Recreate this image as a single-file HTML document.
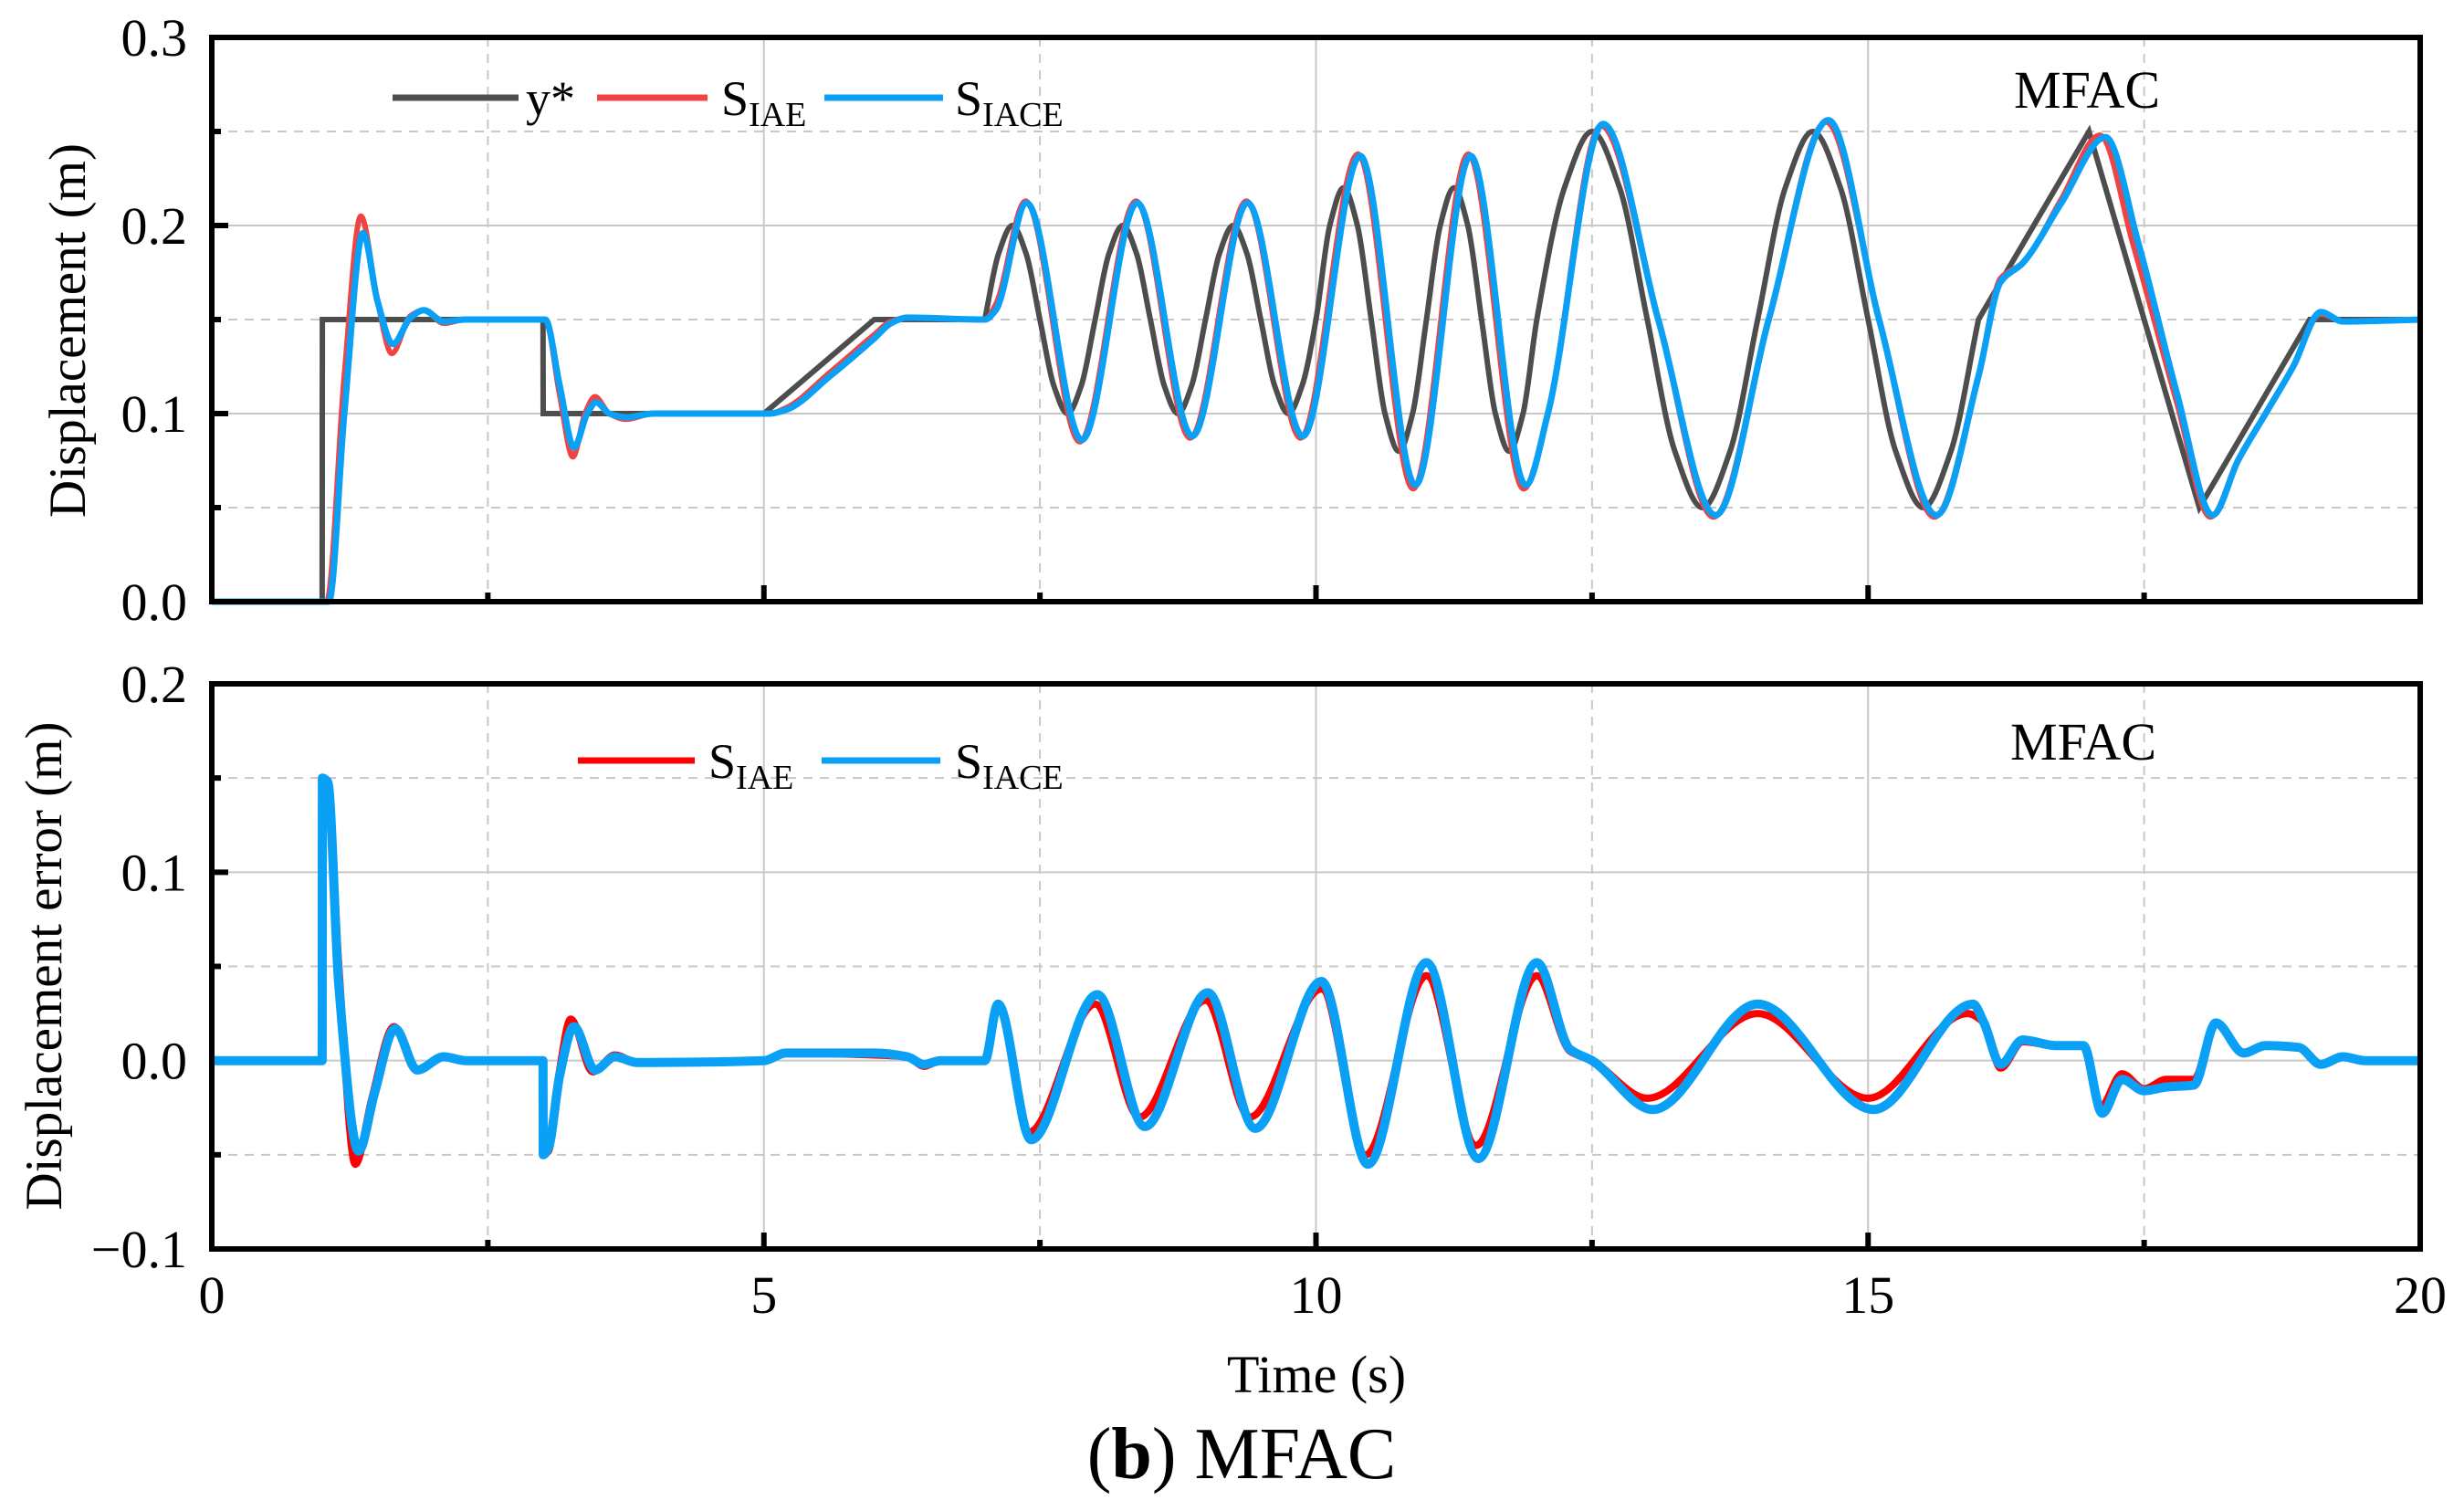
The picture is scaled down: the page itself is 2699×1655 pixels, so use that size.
<!DOCTYPE html>
<html><head><meta charset="utf-8">
<style>
html,body{margin:0;padding:0;background:#fff;}
svg{display:block;}
text{font-family:"Liberation Serif",serif;fill:#000;}
</style></head>
<body>
<svg id="chart" width="2699" height="1655" viewBox="0 0 2699 1655" xmlns="http://www.w3.org/2000/svg"></svg>
<script>
// ---- data (time in s, value in m) ----
const xTicks = [0, 5, 10, 15, 20];
const topYTicks = [0.0, 0.1, 0.2, 0.3];
const botYTicks = [-0.1, 0.0, 0.1, 0.2];
const topYLabels = ["0.0", "0.1", "0.2", "0.3"];
const botYLabels = ["\u22120.1", "0.0", "0.1", "0.2"];

// reference: piecewise-linear part before sine, sine part, piecewise-linear tail
const refStepT = [0,1,1.001,3,3.001,5,6,7];
const refStepV = [0,0,0.15,0.15,0.1,0.1,0.15,0.15];
const refT = [7,7.125,7.25,7.375,7.5,7.625,7.75,7.875,8,8.125,8.25,8.375,8.5,8.625,8.75,8.875,9,9.125,9.25,9.375,9.5,9.625,9.75,9.875,10,10.125,10.25,10.375,10.5,10.625,10.75,10.875,11,11.125,11.25,11.375,11.5,11.625,11.75,11.875,12,12.25,12.5,12.75,13,13.25,13.5,13.75,14,14.25,14.5,14.75,15,15.25,15.5,15.75,16];
const refV = [0.15,0.185,0.2,0.185,0.15,0.115,0.1,0.115,0.15,0.185,0.2,0.185,0.15,0.115,0.1,0.115,0.15,0.185,0.2,0.185,0.15,0.115,0.1,0.115,0.15,0.2,0.22,0.2,0.15,0.1,0.08,0.1,0.15,0.2,0.22,0.2,0.15,0.1,0.08,0.1,0.15,0.22,0.25,0.22,0.15,0.08,0.05,0.08,0.15,0.22,0.25,0.22,0.15,0.08,0.05,0.08,0.15];
const refTailT = [16,17,18,19,20];
const refTailV = [0.15,0.25,0.05,0.15,0.15];

const iaeT = [0,1.04,1.2,1.35,1.5,1.63,1.8,1.92,2.1,2.3,3.02,3.15,3.27,3.38,3.47,3.6,3.75,4.0,5.05,5.2,5.6,6.0,6.15,6.3,7.0,7.1,7.37,7.86,8.37,8.86,9.37,9.86,10.38,10.88,11.38,11.88,12.1,12.58,13.1,13.6,14.1,14.62,15.1,15.6,16.0,16.2,16.4,16.75,17.1,17.4,17.8,18.1,18.35,18.6,18.85,19.1,19.3,20];
const iaeV = [0,0,0.12,0.205,0.16,0.132,0.152,0.155,0.148,0.15,0.15,0.11,0.077,0.1,0.109,0.1,0.097,0.1,0.1,0.103,0.122,0.142,0.149,0.151,0.15,0.158,0.213,0.085,0.213,0.087,0.213,0.087,0.238,0.06,0.238,0.06,0.1,0.253,0.15,0.045,0.15,0.255,0.15,0.045,0.12,0.172,0.18,0.214,0.248,0.19,0.105,0.045,0.075,0.1,0.125,0.153,0.149,0.15];

const iaceT = [0,1.06,1.2,1.37,1.5,1.64,1.8,1.92,2.1,2.3,3.02,3.15,3.28,3.4,3.48,3.6,3.75,4.0,5.05,5.2,5.6,6.0,6.15,6.3,7.0,7.1,7.38,7.88,8.38,8.88,9.38,9.88,10.4,10.9,11.4,11.9,12.1,12.6,13.1,13.62,14.1,14.64,15.1,15.62,16.0,16.2,16.4,16.75,17.15,17.45,17.8,18.12,18.35,18.6,18.85,19.1,19.3,20];
const iaceV = [0,0,0.1,0.196,0.16,0.137,0.151,0.155,0.149,0.15,0.15,0.115,0.082,0.1,0.106,0.1,0.098,0.1,0.1,0.102,0.12,0.14,0.148,0.151,0.15,0.155,0.212,0.086,0.212,0.088,0.212,0.088,0.237,0.062,0.237,0.062,0.1,0.254,0.15,0.046,0.15,0.256,0.15,0.046,0.12,0.17,0.18,0.212,0.247,0.19,0.11,0.046,0.075,0.1,0.125,0.154,0.149,0.15];

const errIaeT = [0,1,1.001,1.05,1.15,1.3,1.45,1.65,1.85,2.1,2.3,3,3.001,3.05,3.15,3.25,3.45,3.65,3.85,5,5.2,6.0,6.3,6.45,6.6,7,7.12,7.4,8.0,8.4,9.0,9.4,10.05,10.45,11.0,11.45,12.0,12.3,12.5,13.0,14.0,15.0,15.9,16.05,16.2,16.4,16.7,16.95,17.1,17.3,17.5,17.7,17.95,18.15,18.4,18.6,18.9,19.1,19.3,19.5,20];
const errIaeV = [0,0,0.15,0.148,0.05,-0.055,-0.02,0.018,-0.005,0.002,0,0,-0.05,-0.048,-0.005,0.022,-0.006,0.003,-0.001,0,0.004,0.003,0.002,-0.003,0,0,0.03,-0.038,0.03,-0.03,0.032,-0.03,0.038,-0.05,0.045,-0.045,0.045,0.005,0,-0.02,0.025,-0.02,0.025,0.02,-0.004,0.01,0.008,0.008,-0.025,-0.007,-0.015,-0.01,-0.01,0.02,0.004,0.008,0.007,-0.002,0.002,0,0];

const errIaceT = [0,1,1.001,1.05,1.15,1.33,1.47,1.66,1.86,2.1,2.3,3,3.001,3.05,3.15,3.28,3.47,3.65,3.85,5,5.2,6.0,6.3,6.45,6.6,7,7.12,7.42,8.02,8.45,9.02,9.45,10.05,10.47,11.0,11.47,12.0,12.3,12.5,13.05,14.0,15.05,15.95,16.05,16.2,16.4,16.7,16.95,17.12,17.3,17.5,17.7,17.95,18.15,18.4,18.6,18.9,19.1,19.3,19.5,20];
const errIaceV = [0,0,0.15,0.148,0.04,-0.048,-0.018,0.017,-0.005,0.002,0,0,-0.05,-0.046,-0.008,0.018,-0.005,0.002,-0.001,0,0.004,0.004,0.002,-0.002,0,0,0.03,-0.042,0.035,-0.035,0.036,-0.036,0.042,-0.055,0.052,-0.052,0.052,0.006,0,-0.026,0.03,-0.026,0.03,0.02,-0.002,0.011,0.008,0.008,-0.028,-0.01,-0.016,-0.014,-0.013,0.02,0.004,0.008,0.007,-0.002,0.002,0,0];

// ---- layout ----
const L = 232, R = 2651;
const P1 = {top: 41, bot: 659, y0: 0, y1: 0.3};
const P2 = {top: 749, bot: 1368, y0: -0.1, y1: 0.2};
const NS = "http://www.w3.org/2000/svg";
const svg = document.getElementById('chart');
function el(tag, attrs, parent) {
  const e = document.createElementNS(NS, tag);
  for (const k in attrs) e.setAttribute(k, attrs[k]);
  (parent || svg).appendChild(e);
  return e;
}
const xS = t => L + (t / 20) * (R - L);
const yS = (p, v) => p.bot - (v - p.y0) / (p.y1 - p.y0) * (p.bot - p.top);

function monoPath(T, V, p, cont) {
  const n = T.length, xs = T.map(xS), ys = V.map(v => yS(p, v));
  const d = [], m = [];
  for (let i = 0; i < n - 1; i++) d.push((ys[i+1]-ys[i])/(xs[i+1]-xs[i] || 1e-6));
  for (let i = 0; i < n; i++) {
    if (i === 0) m.push(d[0]); else if (i === n-1) m.push(d[n-2]);
    else if (d[i-1]*d[i] <= 0) m.push(0);
    else { const h0 = xs[i]-xs[i-1], h1 = xs[i+1]-xs[i];
      m.push(3*(h0+h1)/((2*h1+h0)/d[i-1] + (h1+2*h0)/d[i])); }
  }
  let s = (cont ? 'L' : 'M') + `${xs[0].toFixed(1)},${ys[0].toFixed(1)}`;
  for (let i = 0; i < n-1; i++) {
    const h = xs[i+1]-xs[i];
    if (h < 3) { s += `L${xs[i+1].toFixed(1)},${ys[i+1].toFixed(1)}`; continue; }
    s += `C${(xs[i]+h/3).toFixed(1)},${(ys[i]+m[i]*h/3).toFixed(1)} ${(xs[i+1]-h/3).toFixed(1)},${(ys[i+1]-m[i+1]*h/3).toFixed(1)} ${xs[i+1].toFixed(1)},${ys[i+1].toFixed(1)}`;
  }
  return s;
}
function linPath(T, V, p, cont) {
  return T.map((t,i)=>((i||cont)?'L':'M')+xS(t).toFixed(1)+','+yS(p,V[i]).toFixed(1)).join('');
}

function panel(p, yTicks, yLabels, name) {
  const g = el('g', {});
  
  
  for (let v = p.y0 + 0.05; v < p.y1 - 1e-9; v += 0.05) {
    const major = Math.abs(Math.round(v*10) - v*10) < 1e-6;
    const ln = el('line', {x1:L, x2:R, y1:yS(p,v), y2:yS(p,v), stroke:'#c8c8c8', 'stroke-width':2, 'stroke-dasharray': major ? 'none' : '10,8'}, g);
    
    
  }
  for (let t = 2.5; t < 20; t += 2.5) {
    const major = t % 5 === 0;
    const ln = el('line', {x1:xS(t), x2:xS(t), y1:p.top, y2:p.bot, stroke:'#c8c8c8', 'stroke-width':2, 'stroke-dasharray': major ? 'none' : '10,8'}, g);
    
    
  }
  for (let t = 0; t <= 20; t += 2.5) {
    const len = t % 5 === 0 ? 18 : 10;
    el('line', {x1:xS(t), x2:xS(t), y1:p.bot, y2:p.bot-len, stroke:'#000', 'stroke-width':6}, g);
  }
  for (let v = p.y0; v <= p.y1 + 1e-9; v += 0.05) {
    const len = Math.abs(Math.round(v*10) - v*10) < 1e-6 ? 18 : 10;
    el('line', {x1:L, x2:L+len, y1:yS(p,v), y2:yS(p,v), stroke:'#000', 'stroke-width':6}, g);
  }
  yTicks.forEach((v,i) => {
    const tx = el('text', {x:205, y:yS(p,v)+20, 'font-size':58, 'text-anchor':'end'}, g);
    tx.textContent = yLabels[i];
    
    
  });
  return g;
}

const g1 = panel(P1, topYTicks, topYLabels, 'displacement-panel');
const g2 = panel(P2, botYTicks, botYLabels, 'error-panel');

let s;
s = el('path', {d: linPath(refStepT, refStepV, P1) + monoPath(refT, refV, P1, true) + linPath(refTailT, refTailV, P1, true), fill:'none', stroke:'#4d4d4d', 'stroke-width':6, 'stroke-linejoin':'miter'}, g1);


s = el('path', {d: monoPath(iaeT, iaeV, P1), fill:'none', stroke:'#f04444', 'stroke-width':6, 'stroke-linejoin':'round'}, g1);


s = el('path', {d: monoPath(iaceT, iaceV, P1), fill:'none', stroke:'#0aa0f5', 'stroke-width':7, 'stroke-linejoin':'round'}, g1);


s = el('path', {d: monoPath(errIaeT, errIaeV, P2), fill:'none', stroke:'#ff0000', 'stroke-width':8, 'stroke-linejoin':'round'}, g2);


s = el('path', {d: monoPath(errIaceT, errIaceV, P2), fill:'none', stroke:'#0aa0f5', 'stroke-width':10, 'stroke-linejoin':'round'}, g2);



[P1, P2].forEach(p => {
  const f = el('rect', {x:L, y:p.top, width:R-L, height:p.bot-p.top, fill:'none', stroke:'#000', 'stroke-width':6});
  
  
});

xTicks.forEach(t => {
  const tx = el('text', {x:xS(t), y:1438, 'font-size':58, 'text-anchor':'middle'});
  tx.textContent = String(t);
  
  
});
</script>
<script>
(function(){
const svg = document.getElementById('chart');
const NS = "http://www.w3.org/2000/svg";
function add(html){ const g = document.createElementNS(NS,'g'); g.innerHTML = html; svg.appendChild(g); return g; }
add(`
<text transform="translate(93,362) rotate(-90)" font-size="57" text-anchor="middle">Displacement (m)</text>
<text transform="translate(67,1058) rotate(-90)" font-size="57" text-anchor="middle">Displacement error (m)</text>
<text x="1442" y="1525" font-size="58" text-anchor="middle">Time (s)</text>
<text x="1360" y="1619" font-size="80" text-anchor="middle">(<tspan font-weight="bold">b</tspan>) MFAC</text>
<g>
  <line x1="430" x2="568" y1="107" y2="107" stroke="#4d4d4d" stroke-width="7"/>
  <text x="576" y="126" font-size="54">y*</text>
  <line x1="654" x2="775" y1="107" y2="107" stroke="#f04444" stroke-width="7"/>
  <text x="790" y="126" font-size="54">S<tspan font-size="38" dy="12">IAE</tspan></text>
  <line x1="903" x2="1033" y1="107" y2="107" stroke="#0aa0f5" stroke-width="7"/>
  <text x="1046" y="126" font-size="54">S<tspan font-size="38" dy="12">IACE</tspan></text>
</g>
<text x="2206" y="118" font-size="58">MFAC</text>
<g>
  <line x1="633" x2="761" y1="833" y2="833" stroke="#ff0000" stroke-width="7"/>
  <text x="776" y="852" font-size="54">S<tspan font-size="38" dy="12">IAE</tspan></text>
  <line x1="900" x2="1030" y1="833" y2="833" stroke="#0aa0f5" stroke-width="7"/>
  <text x="1046" y="852" font-size="54">S<tspan font-size="38" dy="12">IACE</tspan></text>
</g>
<text x="2202" y="832" font-size="58">MFAC</text>
`);
})();
</script>
</body></html>
